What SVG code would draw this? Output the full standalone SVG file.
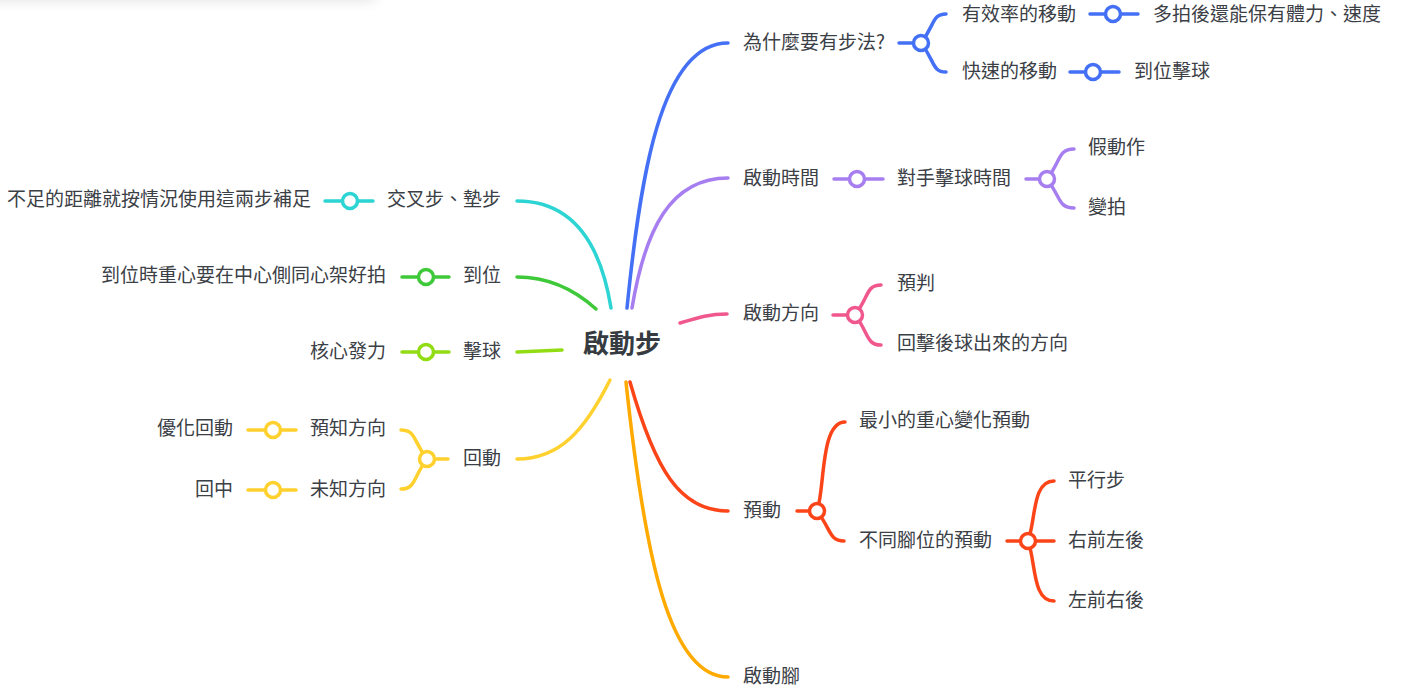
<svg xmlns="http://www.w3.org/2000/svg" width="1401" height="688" viewBox="0 0 1401 688">
<style>
text{font-family:'Noto Sans CJK TC','Noto Sans CJK SC',sans-serif;font-size:19px;fill:#3b4046;dominant-baseline:central}
.root{font-size:26px;font-weight:bold;fill:#363b41}
.end{text-anchor:end}
path{fill:none;stroke-width:3.5;stroke-linecap:round}
circle{fill:#fff;stroke-width:3.5}
.b{stroke:#4470f6}.p{stroke:#a67ef0}.k{stroke:#f0578c}.r{stroke:#fb4519}.o{stroke:#ffaa00}
.c{stroke:#2dd4d4}.g{stroke:#3fc93a}.l{stroke:#92dc13}.y{stroke:#ffd12e}
</style>
<defs>
<filter id="sh" x="-20%" y="-200%" width="140%" height="500%"><feGaussianBlur stdDeviation="7"/></filter>
</defs>
<rect x="-10" y="-22" width="385" height="22" fill="#000" opacity="0.12" filter="url(#sh)"/>
<g id="connectors">
<path class="b" d="M627,308 C640,180 660,43 728,43"/>
<path class="b" d="M899,43 H921"/>
<path class="b" d="M921,43 C935,25 932,14 946,14"/>
<path class="b" d="M921,43 C935,61 932,72 946,72"/>
<path class="b" d="M1090,14 H1138"/>
<path class="b" d="M1070,72 H1119"/>
<circle class="b" cx="921" cy="43" r="7.5"/>
<circle class="b" cx="1113" cy="14" r="7.5"/>
<circle class="b" cx="1093" cy="72" r="7.5"/>

<path class="p" d="M632,308 C645,230 670,178 728,178"/>
<path class="p" d="M834,179 H883"/>
<path class="p" d="M1026,179 H1047"/>
<path class="p" d="M1047,179 C1061,161 1058,149 1074,149"/>
<path class="p" d="M1047,179 C1061,197 1058,208 1074,208"/>
<circle class="p" cx="857" cy="179" r="7.5"/>
<circle class="p" cx="1047" cy="179" r="7.5"/>

<path class="k" d="M680,323 C700,317 710,314 727,314"/>
<path class="k" d="M833,315 H855"/>
<path class="k" d="M855,315 C869,297 866,285 881,285"/>
<path class="k" d="M855,315 C869,333 866,345 881,345"/>
<circle class="k" cx="855" cy="315" r="7.5"/>

<path class="r" d="M630,382 C655,470 680,511 728,511"/>
<path class="r" d="M797,511 H817"/>
<path class="r" d="M817,511 C825,490 820,422 845,422"/>
<path class="r" d="M817,511 C831,529 829,541 844,541"/>
<path class="r" d="M1007,541 H1054"/>
<path class="r" d="M1028,541 C1036,520 1032,481 1054,481"/>
<path class="r" d="M1028,541 C1036,562 1032,601 1054,601"/>
<circle class="r" cx="817" cy="511" r="7.5"/>
<circle class="r" cx="1028" cy="541" r="7.5"/>

<path class="o" d="M626,382 C645,560 670,677 728,677"/>

<path class="c" d="M611,308 C600,240 570,201 517,201"/>
<path class="c" d="M325,201 H373"/>
<circle class="c" cx="350" cy="201" r="7.5"/>

<path class="g" d="M596,309 C575,290 550,277 517,277"/>
<path class="g" d="M402,277 H449"/>
<circle class="g" cx="426" cy="277" r="7.5"/>

<path class="l" d="M562,350 L517,352"/>
<path class="l" d="M402,352 H449"/>
<circle class="l" cx="426" cy="352" r="7.5"/>

<path class="y" d="M610,380 C585,430 560,459 517,459"/>
<path class="y" d="M427,459 H448"/>
<path class="y" d="M427,459 C413,441 416,430 401,430"/>
<path class="y" d="M427,459 C413,477 416,489 401,489"/>
<path class="y" d="M248,430 H296"/>
<path class="y" d="M248,490 H296"/>
<circle class="y" cx="427" cy="459" r="7.5"/>
<circle class="y" cx="273" cy="430" r="7.5"/>
<circle class="y" cx="273" cy="490" r="7.5"/>
</g>

<g id="root"><text class="root" x="622" y="341" text-anchor="middle">啟動步</text></g>
<g id="n-why"><text x="743" y="40">為什麼要有步法?</text></g>
<g id="n-eff"><text x="962" y="12.5">有效率的移動</text></g>
<g id="n-eff1"><text x="1153" y="12.5">多拍後還能保有體力、速度</text></g>
<g id="n-fast"><text x="962" y="69.5">快速的移動</text></g>
<g id="n-fast1"><text x="1134" y="69.5">到位擊球</text></g>
<g id="n-time"><text x="743" y="176">啟動時間</text></g>
<g id="n-opp"><text x="897" y="176">對手擊球時間</text></g>
<g id="n-fake"><text x="1088" y="145.5">假動作</text></g>
<g id="n-beat"><text x="1088" y="205.5">變拍</text></g>
<g id="n-dir"><text x="743" y="311.5">啟動方向</text></g>
<g id="n-pred"><text x="897" y="281.5">預判</text></g>
<g id="n-ret"><text x="897" y="341.5">回擊後球出來的方向</text></g>
<g id="n-pre"><text x="743" y="508.5">預動</text></g>
<g id="n-min"><text x="859" y="418.5">最小的重心變化預動</text></g>
<g id="n-feet"><text x="859" y="538.5">不同腳位的預動</text></g>
<g id="n-par"><text x="1068" y="478.5">平行步</text></g>
<g id="n-rf"><text x="1068" y="538.5">右前左後</text></g>
<g id="n-lf"><text x="1068" y="598.5">左前右後</text></g>
<g id="n-foot"><text x="743" y="674.5">啟動腳</text></g>
<g id="n-cross"><text class="end" x="501" y="197.5">交叉步、墊步</text></g>
<g id="n-cross1"><text class="end" x="311" y="197.5">不足的距離就按情況使用這兩步補足</text></g>
<g id="n-pos"><text class="end" x="501" y="273.5">到位</text></g>
<g id="n-pos1"><text class="end" x="386" y="273.5">到位時重心要在中心側同心架好拍</text></g>
<g id="n-hit"><text class="end" x="501" y="349.5">擊球</text></g>
<g id="n-hit1"><text class="end" x="386" y="349.5">核心發力</text></g>
<g id="n-back"><text class="end" x="501" y="456.5">回動</text></g>
<g id="n-known"><text class="end" x="386" y="426.5">預知方向</text></g>
<g id="n-opt"><text class="end" x="233" y="426.5">優化回動</text></g>
<g id="n-unk"><text class="end" x="386" y="487.5">未知方向</text></g>
<g id="n-mid"><text class="end" x="233" y="487.5">回中</text></g>
</svg>
